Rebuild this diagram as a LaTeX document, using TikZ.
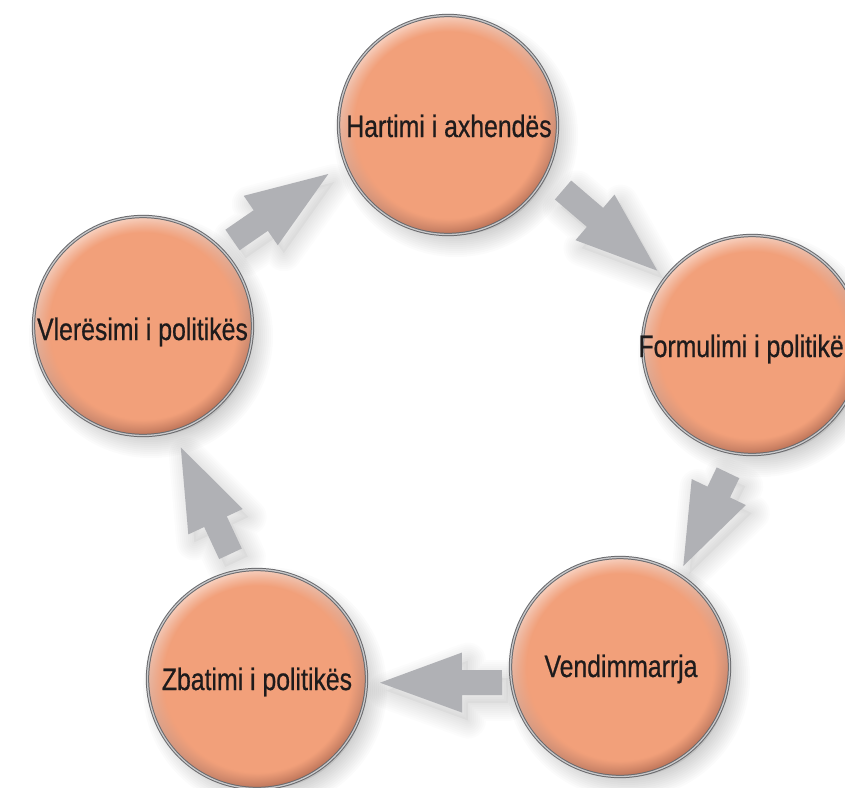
\documentclass[tikz,border=0pt]{standalone}
\usepackage{fontspec}
\setmainfont{Liberation Sans}[FakeStretch=0.8, FakeBold=0.6]
\usetikzlibrary{calc,fadings}

\definecolor{ballbase}{RGB}{242,160,122}
\definecolor{balllight}{RGB}{250,214,198}
\definecolor{balldark}{RGB}{182,110,84}
\definecolor{rimdark}{RGB}{105,105,108}
\definecolor{rimlight}{RGB}{200,200,202}
\definecolor{arrowgray}{RGB}{176,177,181}
\definecolor{labelink}{RGB}{30,27,28}

\tikzset{
  ball/.style={circle, minimum size=219pt, inner sep=0pt,
    draw=rimdark, double=rimlight, double distance=1.3pt, line width=1pt,
    path picture={
      \shade[top color=balllight, middle color=ballbase, bottom color=balldark,
             shading angle=25]
        (path picture bounding box.south west) rectangle
        (path picture bounding box.north east);
      \fill[ballbase, path fading=circle with fuzzy edge 15 percent]
        (path picture bounding box.center) circle [radius=109.5pt];
    }},
  hazefill/.style={fill=black, opacity=#1},
  hazeline/.style={draw=black, opacity=#1, line join=round},
  steplabel/.style={font=\fontsize{31}{31}\selectfont, text=labelink,
    anchor=base, inner sep=0pt}
}

% soft drop shadow under a stage disc centred on coordinate #1
\newcommand\discshadow[1]{%
  \begin{scope}[transform canvas={xshift=8pt,yshift=-10pt}]
    \path[hazefill=0.07] (#1) circle [radius=100pt];
    \foreach \w in {4,8,...,44}
      {\path[hazeline=0.017, line width=\w pt] (#1) circle [radius=100pt];}
  \end{scope}}

% outline of a block arrow from tail #2 to tip #3, drawn with style #1
\newcommand\arrowshape[3]{%
  \path[#1]
    ($(#2)!12.5pt!90:(#3)$) -- ($(#2-base)!12.5pt!90:(#3)$) --
    ($(#2-base)!30pt!90:(#3)$) -- (#3) --
    ($(#2-base)!30pt!-90:(#3)$) -- ($(#2-base)!12.5pt!-90:(#3)$) --
    ($(#2)!12.5pt!-90:(#3)$) -- cycle;}

% block arrow with its soft shadow
\newcommand\blockarrow[2]{%
  \coordinate (#1-base) at ($(#2)!82pt!(#1)$);
  \begin{scope}[transform canvas={xshift=6pt,yshift=-8pt}]
    \arrowshape{hazefill=0.03}{#1}{#2}
    \foreach \w in {4,8,...,36}
      {\arrowshape{hazeline=0.011, line width=\w pt}{#1}{#2}}
  \end{scope}
  \arrowshape{fill=arrowgray}{#1}{#2}}

\begin{document}
\begin{tikzpicture}[x=1pt,y=-1pt]
\useasboundingbox (0,0) rectangle (845,787);
\clip (0,0) rectangle (845,787);
\fill[white] (0,0) rectangle (845,787);

% disc centres
\coordinate (cA) at (448,125);
\coordinate (cB) at (752,345);
\coordinate (cC) at (620,667);
\coordinate (cD) at (257,679);
\coordinate (cE) at (143,326);

\discshadow{cA}
\discshadow{cB}
\discshadow{cC}
\discshadow{cD}
\discshadow{cE}

% arrow ends
\coordinate (t1) at (563,190);   \coordinate (h1) at (657.3,270.7);
\coordinate (t2) at (728,472.8); \coordinate (h2) at (683.3,566);
\coordinate (t3) at (502,682.5); \coordinate (h3) at (380,682.7);
\coordinate (t4) at (230.5,553.8); \coordinate (h4) at (180.8,447.4);
\coordinate (t5) at (232.5,240); \coordinate (h5) at (328.3,174);

\blockarrow{t1}{h1}
\blockarrow{t2}{h2}
\blockarrow{t3}{h3}
\blockarrow{t4}{h4}
\blockarrow{t5}{h5}

% stages of the cycle
\node[ball] (A) at (cA) {};
\node[ball] (B) at (cB) {};
\node[ball] (C) at (cC) {};
\node[ball] (D) at (cD) {};
\node[ball] (E) at (cE) {};

\node[steplabel] (tA) at (449,137) {Hartimi i axhendës};
\node[steplabel, anchor=base east] (tB) at (844,357) {Formulimi i politikë};
\node[steplabel] (tC) at (621,677) {Vendimmarrja};
\node[steplabel] (tD) at (257,690) {Zbatimi i politikës};
\node[steplabel] (tE) at (142.5,340) {Vlerësimi i politikës};
\end{tikzpicture}
\end{document}
